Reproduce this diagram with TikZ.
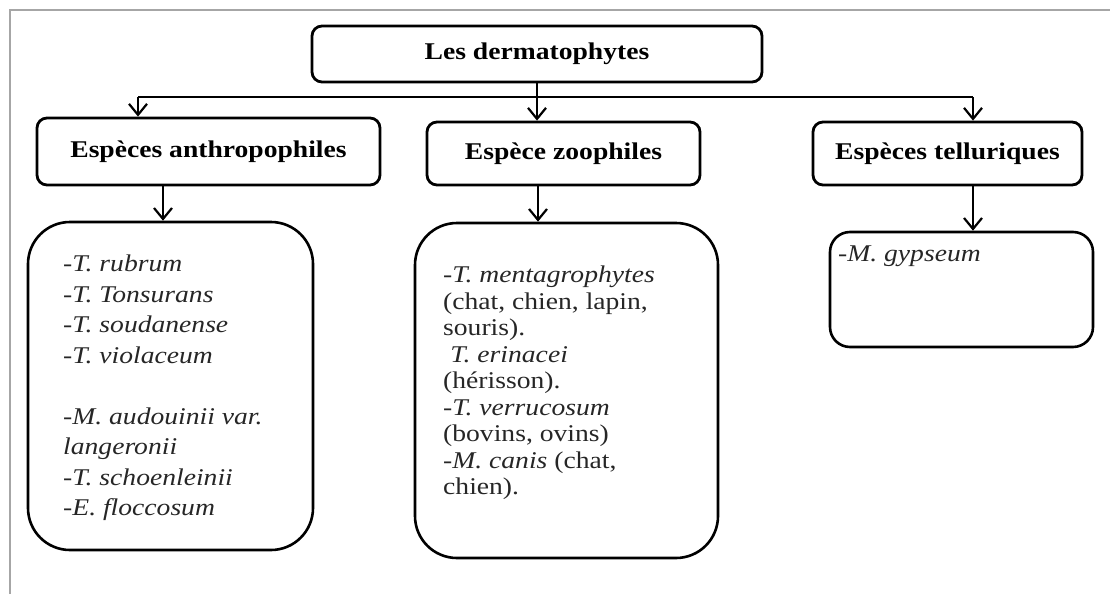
\documentclass[tikz,border=0pt]{standalone}
\usepackage{fontspec}
\setmainfont[FakeStretch=1.15]{Liberation Serif}
\usetikzlibrary{arrows.meta}
\begin{document}
\begin{tikzpicture}[x=1pt,y=-1pt,
  hdr/.style={draw, line width=2.8pt, rounded corners=10pt, inner sep=0pt,
    font=\fontsize{24}{28}\selectfont\bfseries},
  listbox/.style={draw, line width=2.6pt, inner sep=0pt},
  listtext/.style={anchor=north west, inner sep=0pt, align=left, text=black!85},
  arr/.style={line width=2.4pt, -{Straight Barb[length=11pt,width=18pt,line width=2.2pt]}},
  bus/.style={line width=2.8pt}
]
\useasboundingbox (0,0) rectangle (1110,594);
% frame
\draw[gray!70, line width=2pt] (10,594) -- (10,10) -- (1110,10);

% header boxes
\node[hdr, minimum width=450pt, minimum height=56pt] (top) at (537,54) {Les dermatophytes};
\node[hdr, minimum width=343pt, minimum height=67pt] (anth) at (208.5,151.5) {Espèces anthropophiles};
\node[hdr, minimum width=273pt, minimum height=63pt] (zoo) at (563.5,153.5) {Espèce zoophiles};
\node[hdr, minimum width=269pt, minimum height=63pt] (tell) at (947.5,153.5) {Espèces telluriques};

% list boxes
\node[listbox, rounded corners=42pt, minimum width=285pt, minimum height=328pt] (alist) at (170.5,386) {};
\node[listbox, rounded corners=42pt, minimum width=303pt, minimum height=335pt] (zlist) at (566.5,390.5) {};
\node[listbox, rounded corners=20pt, minimum width=263pt, minimum height=115pt] (tlist) at (961.5,289.5) {};

% list texts
\node[listtext, font=\fontsize{24}{30.5}\selectfont\itshape] (atext) at (63,255) {%
-T. rubrum\\
-T. Tonsurans\\
-T. soudanense\\
-T. violaceum\\[30.5pt]
-M. audouinii var.\\
langeronii\\
-T. schoenleinii\\
-E. floccosum};

\node[listtext, font=\fontsize{24}{26.5}\selectfont] (ztext) at (443,266) {%
\textit{-T. mentagrophytes}\\
(chat, chien, lapin,\\
souris).\\
\hspace{0.3em}\textit{T. erinacei}\\
(hérisson).\\
\textit{-T. verrucosum}\\
(bovins, ovins)\\
\textit{-M. canis} (chat,\\
chien).};

\node[listtext, font=\fontsize{24}{28}\selectfont\itshape] (ttext) at (838,246) {-M. gypseum};

% connectors
\coordinate (bL) at (138,97);
\coordinate (bR) at (973,97);
\draw[bus] (bL) -- (bR);
\draw[arr] (top.south) -- (top.south |- zoo.north);
\draw[arr] (bL) -- (bL |- anth.north);
\draw[arr] (bR) -- (bR |- tell.north);

\coordinate (xa) at (163,0);
\coordinate (xz) at (538,0);
\coordinate (xt) at (973,0);
\draw[arr] (xa |- anth.south) -- (xa |- alist.north);
\draw[arr] (xz |- zoo.south) -- (xz |- zlist.north);
\draw[arr] (xt |- tell.south) -- (xt |- tlist.north);
\end{tikzpicture}
\end{document}
